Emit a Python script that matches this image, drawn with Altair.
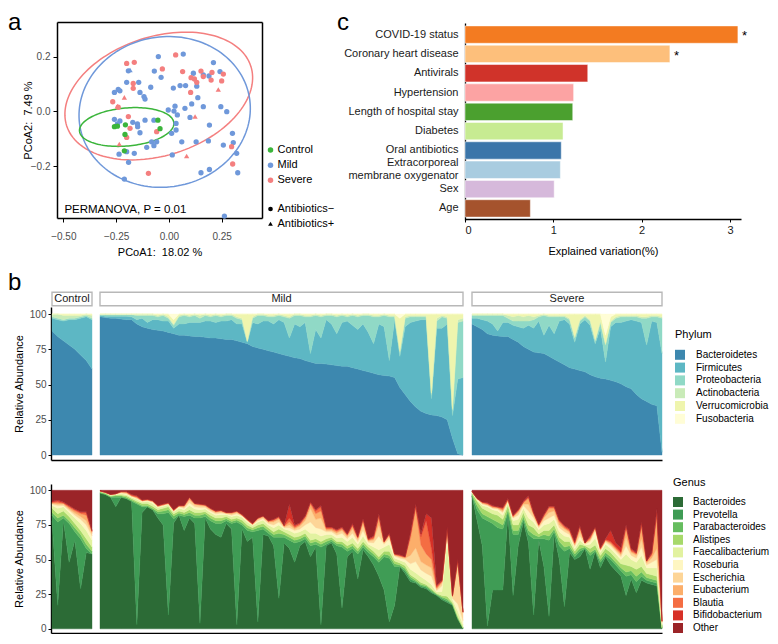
import numpy as np
import pandas as pd
import altair as alt

W, H = 762, 626
FONT = "Liberation Sans"
TICK_GRAY = "#4D4D4D"

# ======================= panel a : PCoA =======================
GROUPS = ["Control", "Mild", "Severe"]
GROUP_COLORS = ["#3BB53B", "#6F98DA", "#F47F7F"]
ABX = ["Antibiotics\u2212", "Antibiotics+"]

ctrl_x = [-0.258, -0.244, -0.206, -0.208, -0.211, -0.052, -0.042]
ctrl_y = [-0.056, -0.054, -0.049, -0.084, -0.144, -0.032, -0.063]

mild_x = [-0.050, 0.068, 0.211, -0.069, -0.037, -0.192, -0.143, -0.240, -0.258, -0.232,
          -0.200, -0.137, -0.118, -0.113, -0.086, 0.021, 0.053, 0.079, 0.132, 0.163,
          0.190, 0.242, 0.116, 0.108, 0.137, 0.163, 0.076, 0.029, -0.003, 0.024,
          0.040, 0.100, 0.246, 0.274, -0.258, -0.232, -0.149, -0.148, -0.113, -0.071,
          0.034, 0.034, 0.013, 0.061, 0.129, 0.192, 0.187, 0.258, 0.301, 0.305,
          0.321, -0.082, -0.071, -0.105, -0.200, -0.236, -0.164, -0.191, 0.016, 0.326,
          0.192, 0.152, -0.211, 0.263, -0.137, -0.244, -0.058, -0.171]
mild_y = [0.200, 0.209, 0.178, 0.147, 0.124, 0.148, 0.106, 0.080, 0.069, 0.075,
          0.106, 0.069, 0.054, 0.045, 0.088, 0.085, 0.094, 0.094, 0.092, 0.133,
          0.129, 0.145, 0.139, 0.027, 0.050, 0.017, 0.011, 0.019, 0.005, 0.001,
          -0.013, -0.022, 0.017, -0.001, -0.029, -0.035, -0.046, -0.056, -0.032, -0.032,
          -0.044, -0.068, -0.080, -0.111, -0.111, -0.050, -0.108, -0.123, -0.080, -0.114,
          -0.153, -0.111, -0.125, -0.131, -0.147, -0.156, -0.153, -0.186, -0.159, -0.224,
          -0.212, -0.224, -0.247, -0.382, -0.078, -0.046, -0.111, -0.040]
mild_tri_x = [-0.184]
mild_tri_y = [0.151]

sev_x = [-0.200, -0.164, -0.031, 0.032, 0.065, 0.152, 0.105, 0.121, 0.132, 0.103,
         0.200, 0.250, 0.258, 0.204, -0.169, -0.169, -0.266, -0.240, -0.192, -0.184,
         -0.200, -0.058, -0.097, 0.297, 0.302, 0.163]
sev_y = [0.175, 0.179, 0.155, 0.206, 0.145, 0.147, 0.123, 0.118, 0.106, 0.069,
         0.114, 0.111, 0.136, 0.142, 0.102, 0.084, 0.035, 0.015, -0.019, -0.062,
         -0.095, -0.074, -0.226, -0.129, -0.192, 0.127]
sev_tri_x = [-0.211, -0.244, 0.124, 0.234, 0.084, -0.235]
sev_tri_y = [0.051, 0.019, -0.019, 0.080, -0.163, -0.119]

# 95% ellipses: centre and the two semi-axis vectors (data units)
ell_group = ["Severe", "Mild", "Control"]
ell_cx = [-0.048, -0.020, -0.200]
ell_cy = [0.056, -0.002, -0.057]
ell_ux = [0.436, 0.401, 0.2234]
ell_uy = [0.109, 0.0545, 0.0151]
ell_vx = [0.0869, 0.0618, 0.0078]
ell_vy = [-0.206, -0.2696, -0.0691]

PERM_TEXT = ["PERMANOVA, P = 0.01"]
PERM_X = [-0.495]
PERM_Y = [-0.358]

# ======================= panel c : explained variation =======================
FACTORS = ["COVID-19 status", "Coronary heart disease", "Antivirals", "Hypertension",
           "Length of hospital stay", "Diabetes", "Oral antibiotics",
           "Extracorporeal membrane oxygenator", "Sex", "Age"]
EXPLAINED = [3.09, 2.32, 1.39, 1.23, 1.22, 1.11, 1.09, 1.08, 1.01, 0.74]
SIGNIF = ["*", "*", "", "", "", "", "", "", "", ""]
BAR_COLORS = ["#F37B21", "#FDBF7B", "#D0332A", "#FCA3A3", "#4BA02F",
              "#C7EB92", "#3B75A9", "#A9CCE0", "#D6B9DB", "#A5532D"]

# ======================= panel b : phylum composition =======================
PHYLA = ["Bacteroidetes", "Firmicutes", "Proteobacteria", "Actinobacteria",
         "Verrucomicrobia", "Fusobacteria"]
PHYLA_COLORS = ["#3D88AF", "#5DB7C4", "#90D9C6", "#C9EBB8", "#EFF5AE", "#FFFDD6"]

c_bact = [88, 84, 81, 78, 75, 71, 67, 61]
c_firm = [9, 12, 14, 18, 21, 26, 31, 35]
c_prot = [1, 1, 1, 1, 1, 1, 1, 1]
c_acti = [2, 3, 3, 2, 2, 1, 1, 2]
c_verr = [0, 0, 1, 1, 1, 1, 0, 1]
c_fuso = [0, 0, 0, 0, 0, 0, 0, 0]

m_bact = [98, 97.5, 97, 97, 96.5, 96, 96, 93, 91, 90,
          89, 88.5, 88, 87, 86, 85, 85, 84.5, 84, 84,
          83.5, 83, 83, 82.5, 82, 82, 81, 80, 79, 77,
          76, 75, 74, 73, 72, 71, 70, 69, 68.5, 67,
          66, 65, 65, 64.5, 64, 63.5, 63, 63, 62, 61,
          60, 59, 58, 57, 56.5, 56, 55, 48, 43, 38,
          34, 31, 29.5, 28.5, 28, 27, 25, 12, 1, 0]
m_firm = [1, 1, 1.5, 1.5, 2, 2.5, 2, 3, 6, 4,
          7, 7.5, 7, 8, 4, 8, 8, 9.5, 10, 10,
          11.5, 12, 11, 12.5, 13, 14, 12, 13, 1, 17,
          17, 20, 21, 20, 24, 23, 13, 24, 22.5, 27,
          6, 24, 18, 31.5, 29, 22.5, 31, 32, 30, 28,
          33, 28, 21, 36, 34.5, 11, 41, 22, 48, 56,
          61, 65, 66.5, 11.5, 62, 63, 68, 16, 53, 55]
m_prot = [0.5, 1, 1, 1, 1, 1, 1.5, 3, 2, 5,
          3, 2, 4, 2, 2, 5, 6, 4, 5, 3,
          4, 3, 5, 3, 4, 3, 4, 3, 0.5, 3,
          6, 4, 3, 5, 3, 4, 14, 6, 8, 4,
          26, 10, 15, 3, 6, 12, 5, 3, 7, 9,
          6, 12, 19, 5, 8, 31, 2, 3, 6, 4,
          3, 2, 2, 3, 5, 8, 4, 4, 40, 40]
m_acti = [0.5, 0.5, 0.5, 0.5, 0.5, 0.5, 0.5, 1, 1, 1,
          1, 1, 1, 1, 1, 1, 1, 1, 1, 2,
          1, 1, 1, 1, 1, 1, 1, 1, 0.5, 1,
          1, 1, 1, 1, 1, 1, 1, 1, 1, 1,
          1, 1, 1, 1, 1, 1, 1, 1, 1, 1,
          1, 1, 1, 1, 1, 1, 1, 1, 1, 1,
          1, 1, 1, 1, 2, 1, 1, 1, 2, 2]
m_verr = [0, 0, 0, 0, 0, 0, 0, 0, 0, 0,
          0, 1, 0, 2, 3, 1, 0, 1, 0, 1,
          0, 1, 0, 1, 0, 0, 2, 3, 19, 2,
          0, 0, 1, 1, 0, 1, 2, 0, 0, 1,
          1, 0, 1, 0, 0, 1, 0, 1, 0, 1,
          0, 0, 1, 1, 0, 1, 1, 23, 2, 1,
          1, 1, 1, 56, 3, 1, 2, 67, 4, 3]
m_fuso = [0, 0, 0, 0, 0, 0, 0, 0, 0, 0,
          0, 0, 0, 0, 4, 0, 0, 0, 0, 0,
          0, 0, 0, 0, 0, 0, 0, 0, 0, 0,
          0, 0, 0, 0, 0, 0, 0, 0, 0, 0,
          0, 0, 0, 0, 0, 0, 0, 0, 0, 0,
          0, 0, 0, 0, 0, 0, 0, 3, 0, 0,
          0, 0, 0, 0, 0, 0, 0, 0, 0, 0]

s_bact = [93, 91, 89, 86, 85, 84.5, 84, 84, 82, 80,
          77, 75, 73, 72.5, 72, 70, 68, 66, 64, 62,
          61, 60, 59, 57, 55.5, 54.5, 54, 53, 52, 50.5,
          48.5, 47, 43, 40, 38, 36, 35, 2]
s_firm = [4, 6, 7, 9, 8, 3.5, 10, 10, 10, 11,
          13, 17, 17, 22.5, 13, 22, 18, 29, 32, 31,
          19, 33, 37, 35, 23.5, 35.5, 12, 38, 42, 43.5,
          46.5, 49, 52, 54, 40, 59, 59, 70]
s_prot = [2, 2, 3, 4, 6, 11, 5, 3, 3, 4,
          5, 3, 6, 3, 14, 6, 12, 3, 2, 3,
          3, 2, 2, 3, 2, 4, 12, 3, 3, 4,
          3, 2, 3, 3, 19, 3, 4, 25]
s_acti = [1, 1, 1, 1, 1, 1, 1, 2, 3, 4,
          3, 4, 2, 1, 1, 1, 1, 1, 1, 1,
          1, 1, 1, 1, 1, 1, 1, 1, 1, 1,
          1, 1, 1, 1, 1, 1, 1, 1]
s_verr = [0, 0, 0, 0, 0, 0, 0, 1, 2, 1,
          2, 1, 2, 1, 0, 1, 1, 1, 1, 3,
          16, 4, 1, 4, 18, 5, 6, 3, 2, 1,
          1, 1, 1, 2, 2, 1, 1, 2]
s_fuso = [0, 0, 0, 0, 0, 0, 0, 0, 0, 0,
          0, 0, 0, 0, 0, 0, 0, 0, 0, 0,
          0, 0, 0, 0, 0, 0, 15, 2, 0, 0,
          0, 0, 0, 0, 0, 0, 0, 0]

# ======================= panel b : genus composition =======================
GENERA = ["Bacteroides", "Prevotella", "Parabacteroides", "Alistipes", "Faecalibacterium",
          "Roseburia", "Escherichia", "Eubacterium", "Blautia", "Bifidobacterium", "Other"]
GENERA_COLORS = ["#2C6B36", "#3F9C55", "#66BD5F", "#A7D96A", "#E2F2A0", "#FEF6C2",
                 "#FDD597", "#FCAE6A", "#F46D43", "#D73027", "#9B2428"]

cg_bact = [78, 17, 78, 48, 64, 29, 55, 54]
cg_prev = [4, 60, 2, 28, 6, 36, 3, 0]
cg_para = [2, 3, 2, 2, 3, 3, 3, 2]
cg_alis = [3, 3, 3, 3, 3, 3, 4, 3]
cg_faec = [2, 4, 3, 3, 4, 5, 6, 5]
cg_rose = [1, 2, 1, 1.5, 2, 3, 4, 3]
cg_esch = [0.5, 1, 1, 1, 1.5, 2, 3, 2]
cg_euba = [0.5, 1, 0.5, 1, 1.5, 2, 4, 1]
cg_blau = [0.5, 1, 0.5, 1, 1, 1, 2, 0.5]
cg_bifi = [0.5, 1, 0.5, 0.5, 0.5, 0.5, 0.5, 0.5]
cg_othr = [8, 7, 8.5, 11, 13.5, 15.5, 15.5, 29]

mg_bact = [98, 97, 95, 88, 95, 94, 92, 3, 84, 88,
           86, 80, 75, 10, 76, 82, 71, 80, 76, 4,
           80, 72, 68, 66, 76, 72, 3, 72, 63, 66,
           5, 68, 67, 60, 22, 62, 58, 48, 60, 63,
           52, 59, 3, 60, 62, 54, 15, 52, 56, 36,
           57, 52, 46, 38, 28, 5, 17, 45, 40, 34,
           33, 30, 29, 26, 24, 21, 19, 17, 7, 0.5]
mg_prev = [0, 0, 0, 7, 0, 0, 0, 87, 4, 0,
           0, 3, 8, 74, 3, 0, 10, 2, 4, 76,
           1, 6, 8, 10, 2, 4, 74, 3, 8, 4,
           66, 4, 2, 6, 44, 4, 6, 14, 3, 2,
           8, 2, 56, 1, 1, 6, 44, 4, 2, 18,
           2, 3, 6, 10, 24, 46, 28, 0, 2, 2,
           1, 1, 1, 1, 0.5, 1, 1, 0.5, 0.5, 0]
mg_para = [0.5, 0.5, 0.5, 1, 1, 1, 1, 1, 1, 1,
           1, 1.5, 2, 2, 2, 1.5, 1.5, 2, 2, 2,
           2, 2, 2, 2, 1.5, 1.5, 1.5, 1.5, 2, 1.5,
           2, 2, 2, 2, 3, 2, 2, 2, 2, 2,
           2, 2, 2, 2, 1.5, 1.5, 2, 2, 2, 2,
           2, 2, 2, 2, 2, 2, 2, 1, 1.5, 1.5,
           1, 1, 1, 1, 0.5, 1, 1.5, 0.5, 0.5, 0]
mg_alis = [0.5, 0.5, 0.5, 0.5, 0.5, 1, 1, 1, 1.5, 1.5,
           1.5, 1.5, 2, 2, 1.5, 1.5, 1.5, 2, 2, 2,
           1.5, 2, 2, 2, 1.5, 1.5, 1.5, 2, 2, 1.5,
           2, 2, 2, 2, 3, 2, 2, 2, 2, 2,
           2, 2, 2, 2, 1.5, 1.5, 2, 2, 2, 2,
           2, 2, 2, 2, 2, 3, 2, 1.5, 2, 1.5,
           1.5, 1.5, 1, 1, 0.5, 1, 2, 1, 1, 0.5]
mg_faec = [0.5, 0.5, 0.5, 0.5, 1, 1, 1, 1.5, 1, 1.5,
           2, 1.5, 1.5, 1.5, 1.5, 2, 2, 3, 2.5, 2,
           2, 2, 2, 2.5, 1.5, 2, 2, 2, 2, 1.5,
           2, 2.5, 2, 3, 3, 2, 3, 3, 3, 3,
           5, 4, 4, 3, 2, 2.5, 3, 3, 4, 3,
           4, 2, 3, 5, 3, 5, 2, 2, 2.5, 4,
           4, 4, 3, 3, 1, 3, 40, 2, 4, 2]
mg_rose = [0, 0, 0.5, 0.5, 0.5, 0.5, 0.5, 0.5, 0.5, 0.5,
           1, 0.5, 0.5, 0.5, 0.5, 1, 1, 2, 1.5, 1.5,
           1, 1, 1, 1, 0.5, 1, 1, 1, 1, 0.5,
           1, 1, 1, 2, 2, 1, 2, 2, 2, 3,
           8, 4, 5, 2, 2, 2, 3, 2, 3, 2,
           4, 1.5, 3, 10, 2, 4, 1.5, 1.5, 2, 4,
           8, 5, 5, 6, 1, 4, 6, 1, 5, 3]
mg_esch = [0, 0, 0, 0, 0.5, 0.5, 0.5, 0.5, 0.5, 0.5,
           0.5, 0.5, 0.5, 0.5, 0.5, 0.5, 1, 2, 1.5, 1.5,
           1, 1, 1, 1, 0.5, 1, 1, 0.5, 0.5, 0.5,
           1, 1, 1, 2, 2, 0.5, 2, 1, 2, 3,
           10, 6, 8, 1, 1, 1.5, 2, 1.5, 3, 1.5,
           4, 1, 2, 8, 1, 2, 0.5, 1, 1, 6,
           10, 6, 6, 6, 1, 2, 2, 1, 28, 6]
mg_euba = [0, 0, 0, 0, 0.5, 0.5, 0, 0.5, 0, 0,
           0, 0, 0, 0, 0, 0, 0.5, 1, 0.5, 0.5,
           0.5, 0.5, 0.5, 0.5, 0, 0.5, 0.5, 0, 0, 0,
           0.5, 0.5, 0.5, 1, 1, 0.5, 2, 1, 1, 2,
           3, 4, 5, 1, 1, 1, 1, 1, 2, 1,
           3, 0.5, 1, 5, 0.5, 1, 0.5, 0.5, 0.5, 12,
           28, 12, 8, 6, 1, 1, 1, 0.5, 3, 0]
mg_blau = [0, 0, 0, 0, 0, 0.5, 0.5, 0.5, 0.5, 0.5,
           0.5, 0.5, 0.5, 0.5, 0.5, 0.5, 0.5, 1, 0.5, 0.5,
           0.5, 0.5, 0.5, 0.5, 0.5, 0.5, 0.5, 0.5, 0.5, 0.5,
           0.5, 0.5, 0.5, 1, 1, 0.5, 3, 1, 1, 1,
           1, 2, 3, 1, 1, 1, 1, 0.5, 1, 0.5,
           1, 0.5, 1, 2, 0.5, 0.5, 0.5, 0.5, 0.5, 3,
           2, 6, 24, 8, 1, 0.5, 0.5, 0.5, 0.5, 0]
mg_bifi = [0, 0, 0, 0, 0, 0, 0.5, 0.5, 0, 0,
           0, 0, 0, 0, 0, 0, 0, 0, 0, 0,
           0, 0, 0, 0, 0, 0, 0, 0, 0, 0,
           0, 0, 0, 0, 0, 0, 10, 1, 0.5, 0.5,
           0.5, 1, 1, 0.5, 0.5, 0.5, 0.5, 0.5, 1, 0.5,
           0.5, 0.5, 1, 1, 0, 0.5, 0, 0.5, 0, 1,
           1.5, 2, 5, 22, 1, 0.5, 0.5, 0, 0.5, 0]
mg_othr = [0.5, 1.5, 3, 2.5, 1, 1, 3, 4, 7, 6.5,
           7.5, 11, 10, 9, 14, 11, 11, 5, 9.5, 10,
           10.5, 13, 15, 14.5, 16, 16, 15, 17.5, 21, 24,
           20, 18.5, 22, 21, 19, 25.5, 10, 25, 23.5, 18.5,
           8.5, 14, 11, 26.5, 26.5, 28.5, 26.5, 31.5, 24, 33.5,
           20.5, 35, 33, 17, 37, 31, 46, 46.5, 48, 31,
           10, 31.5, 17, 20, 68.5, 65, 26.5, 76, 50, 88]

sg_bact = [96, 78, 60, 2, 28, 28, 28, 83, 24, 60,
           77, 62, 10, 64, 45, 9, 68, 50, 16, 55,
           50, 52, 58, 43, 56, 44, 52, 46, 42, 38,
           24, 36, 26, 35, 33, 32, 31, 0.5]
sg_prev = [0, 8, 20, 76, 48, 45, 44, 1, 44, 8,
           2, 6, 55, 1, 20, 55, 2, 10, 40, 3,
           2, 4, 0, 10, 0, 4, 1, 4, 4, 4,
           14, 3, 8, 3, 2, 2, 2, 0]
sg_para = [1, 3, 3, 3, 3, 4, 3, 2, 3, 3,
           2, 3, 3, 1.5, 3, 3, 2, 3, 3, 2,
           2, 2, 1, 2, 1.5, 2, 2, 2, 2, 2,
           3, 3, 4, 3, 2, 2, 2, 0]
sg_alis = [1, 3, 4, 4, 4, 5, 4, 3, 4, 4,
           3, 4, 5, 2, 3, 4, 3, 3, 4, 3,
           2, 3, 1, 3, 3, 3, 3, 3, 3, 3,
           5, 3, 5, 4, 3, 3, 3, 0.5]
sg_faec = [0.5, 1, 2, 3, 3, 3, 3, 2, 3, 4,
           3, 5, 4, 3, 4, 5, 4, 4, 4, 3,
           2, 3, 0.5, 3, 5, 2, 3, 3, 3, 3,
           8, 5, 5, 8, 4, 5, 6, 2]
sg_rose = [0.5, 0.5, 1, 1, 1, 1.5, 2, 1, 2, 3,
           2, 5, 3, 1.5, 3, 4, 3, 3, 3, 2,
           1.5, 3, 0.5, 2, 5, 1.5, 1.5, 2, 2, 2,
           6, 3, 3, 6, 2, 4, 6, 1]
sg_esch = [0, 0.5, 0.5, 0.5, 0.5, 0.5, 1, 0.5, 0.5, 2,
           1, 5, 2, 1, 2, 4, 3, 2, 2, 1.5,
           1, 3, 0.5, 1, 2, 0.5, 1, 1, 1, 1.5,
           6, 2, 2, 6, 1.5, 3, 8, 1]
sg_euba = [0, 0, 0.5, 0.5, 0.5, 0.5, 1, 0.5, 0.5, 1,
           1, 4, 1, 0.5, 1, 3, 2, 2, 1, 1,
           1, 3, 0.5, 1, 0.5, 0.5, 0.5, 1, 1, 1,
           6, 1, 1, 8, 1, 2, 22, 0.5]
sg_blau = [0, 0, 0.5, 0.5, 0.5, 0.5, 1, 0.5, 0.5, 0.5,
           0.5, 1, 0.5, 0.5, 1, 1, 1, 1, 1, 1,
           0.5, 1, 0, 1, 0.5, 0.5, 0.5, 1, 1, 1,
           2, 1, 0.5, 3, 0.5, 1, 4, 0]
sg_bifi = [0, 0, 0, 0.5, 0.5, 0, 0.5, 0.5, 0.5, 0.5,
           0.5, 1, 0.5, 0.5, 0.5, 0.5, 0.5, 0.5, 0.5, 0.5,
           1, 0.5, 0, 1, 0, 0.5, 0.5, 8, 3, 3,
           1, 1, 0.5, 1, 0, 1, 2.5, 0]
sg_othr = [1, 6, 8.5, 9, 11, 12, 12.5, 6, 18, 14,
           8, 4, 16, 24.5, 17.5, 11.5, 11.5, 21.5, 25.5, 28,
           37, 25.5, 38, 33, 26.5, 41.5, 35, 29, 38, 41.5,
           25, 42, 45, 23, 51, 45, 13.5, 94.5]

# ======================= helpers =======================
def ax(**kw):
    base = dict(grid=False, domainColor="black", tickColor="black", labelColor=TICK_GRAY,
                labelFont=FONT, labelFontSize=10, titleFont=FONT, titleFontSize=11,
                titleFontWeight="normal", titleColor="black", tickSize=3, tickWidth=1,
                domainWidth=1.3)
    base.update(kw)
    return alt.Axis(**base)


def long_df(cols, names):
    recs = []
    for k, (nm, arr) in enumerate(zip(names, cols)):
        for i, v in enumerate(arr):
            recs.append((i, nm, v, k))
    return pd.DataFrame(recs, columns=["i", "taxon", "value", "ord"])


# ======================= panel a layers =======================
def pts(xs, ys, g, a):
    return pd.DataFrame({"x": xs, "y": ys, "group": g, "abx": a})


pts_df = pd.concat([
    pts(mild_x, mild_y, "Mild", ABX[0]),
    pts(mild_tri_x, mild_tri_y, "Mild", ABX[1]),
    pts(sev_x, sev_y, "Severe", ABX[0]),
    pts(sev_tri_x, sev_tri_y, "Severe", ABX[1]),
    pts(ctrl_x, ctrl_y, "Control", ABX[0]),
], ignore_index=True)

tt = np.linspace(0, 2 * np.pi, 145)
ell_rows = []
for g, cx, cy, ux, uy, vx, vy in zip(ell_group, ell_cx, ell_cy, ell_ux, ell_uy, ell_vx, ell_vy):
    for k, t in enumerate(tt):
        ell_rows.append((g, k, cx + ux * np.cos(t) + vx * np.sin(t), cy + uy * np.cos(t) + vy * np.sin(t)))
ell_df = pd.DataFrame(ell_rows, columns=["group", "k", "x", "y"])

sxA = alt.Scale(domain=[-0.530, 0.441], range=[49, 254], nice=False, zero=False)
syA = alt.Scale(domain=[-0.389, 0.326], range=[210, 14], nice=False, zero=False)
colA = alt.Scale(domain=GROUPS, range=GROUP_COLORS)

ellipses = alt.Chart(ell_df).mark_line(strokeWidth=1.5).encode(
    x=alt.X("x:Q", scale=sxA, axis=ax(orient="top", offset=-14, labels=False, ticks=False,
                                      title=None, domainWidth=1.5)),
    y=alt.Y("y:Q", scale=syA, axis=ax(orient="right", offset=254 - W, labels=False, ticks=False,
                                      title=None, domainWidth=1.5)),
    color=alt.Color("group:N", scale=colA, legend=None),
    detail="group:N",
    order="k:Q",
)

points = alt.Chart(pts_df).mark_point(filled=True, opacity=1, size=28).encode(
    x=alt.X("x:Q", scale=sxA,
            axis=ax(orient="bottom", offset=210 - H, values=[-0.5, -0.25, 0, 0.25], format=".2f",
                    title="PCoA1:\u00a0 18.02 %", tickSize=4, labelPadding=9, titlePadding=5,
                    domainWidth=1.5)),
    y=alt.Y("y:Q", scale=syA,
            axis=ax(orient="left", offset=-49, values=[-0.4, -0.2, 0, 0.2], format=".1f",
                    title="PCoA2:\u00a0 7.49 %", tickSize=4, labelPadding=3, titlePadding=-3,
                    domainWidth=1.5)),
    color=alt.Color("group:N", scale=colA,
                    legend=alt.Legend(orient="none", legendX=257, legendY=136.5, title=None,
                                      symbolType="circle", symbolSize=30, symbolStrokeWidth=0,
                                      labelOffset=1.5, rowPadding=3.15, padding=0,
                                      labelFontSize=11, labelFont=FONT, labelColor="black")),
    shape=alt.Shape("abx:N", scale=alt.Scale(domain=ABX, range=["circle", "triangle-up"]),
                    legend=alt.Legend(orient="none", legendX=257, legendY=195.5, title=None,
                                      symbolSize=22, symbolFillColor="black",
                                      symbolStrokeColor="black", symbolStrokeWidth=0,
                                      labelOffset=1.5, rowPadding=2.8, padding=0,
                                      labelFontSize=11, labelFont=FONT, labelColor="black")),
)

perm = alt.Chart(pd.DataFrame({"x": PERM_X, "y": PERM_Y, "t": PERM_TEXT})).mark_text(
    align="left", baseline="middle", fontSize=11.5, font=FONT, color="black"
).encode(
    x=alt.X("x:Q", scale=sxA, axis=None),
    y=alt.Y("y:Q", scale=syA, axis=None),
    text="t:N",
)

# ======================= panel c layers =======================
bar_df = pd.DataFrame({"factor": FACTORS, "value": EXPLAINED, "sig": SIGNIF})
sxC = alt.Scale(domain=[0, 3.125], range=[457, 733], nice=False, zero=False)
syC = alt.Scale(domain=FACTORS, range=[15, 212], paddingInner=0.1, paddingOuter=0.15)

bars = alt.Chart(bar_df).mark_bar(stroke="white", strokeWidth=0.5).encode(
    y=alt.Y("factor:N", scale=syC, sort=None,
            axis=ax(orient="left", offset=-457, ticks=False, labelPadding=7, title=None,
                    labelFontSize=11, labelColor="#1A1A1A", labelLineHeight=12.4,
                    labelOffset={"condition": {"test": "datum.value == 'Extracorporeal membrane oxygenator'",
                                               "value": -6.3}, "value": 0},
                    labelExpr="datum.label == 'Extracorporeal membrane oxygenator' ? "
                              "['Extracorporeal', 'membrane oxygenator'] : datum.label")),
    x=alt.X("value:Q", scale=sxC,
            axis=ax(orient="bottom", offset=211 - H, values=[0, 1, 2, 3], format="d",
                    title="Explained variation(%)", labelPadding=2, titlePadding=10,
                    labelFontSize=11, labelColor="#1A1A1A")),
    color=alt.Color("factor:N", scale=alt.Scale(domain=FACTORS, range=BAR_COLORS), legend=None),
)

stars = alt.Chart(bar_df).transform_filter("datum.sig != ''").mark_text(
    align="left", baseline="middle", dx=4, dy=3, fontSize=13, font=FONT, color="black"
).encode(
    x=alt.X("value:Q", scale=sxC, axis=None),
    y=alt.Y("factor:N", scale=syC, sort=None, axis=None),
    text="sig:N",
)

# ======================= panel b layers =======================
PANEL_X = {"Control": [44, 84], "Mild": [92, 455], "Severe": [464, 654]}
ROW_X = [43, 654]
PHY_YDOM, PHY_YR = [-0.035, 1.05], [452, 299]
GEN_YDOM, GEN_YR = [-0.030, 1.045], [625, 476]


def area_layer(df, n, xr, ydom, yr, taxa, colors, yaxis=None, legend=None):
    sx = alt.Scale(domain=[0, n - 1], range=xr, nice=False, zero=False)
    cs = alt.Scale(domain=taxa, range=colors)
    return alt.Chart(df).mark_area(strokeWidth=0.4, interpolate="linear").encode(
        x=alt.X("i:Q", scale=sx, axis=None),
        y=alt.Y("value:Q", stack="normalize",
                scale=alt.Scale(domain=ydom, range=yr, nice=False), axis=yaxis),
        color=alt.Color("taxon:N", scale=cs, legend=legend),
        stroke=alt.Stroke("taxon:N", scale=cs, legend=None),
        order=alt.Order("ord:Q"),
    )


def row_baseline(y_bottom):
    # shared bottom axis line spanning the three facet panels of one row
    return alt.Chart(pd.DataFrame({"g": GROUPS})).mark_point(opacity=0).encode(
        x=alt.X(datum=0, type="quantitative",
                scale=alt.Scale(domain=[0, 1], range=ROW_X, nice=False, zero=False),
                axis=ax(orient="bottom", offset=y_bottom - H, labels=False, ticks=False,
                        title=None, domainWidth=1.4)),
        y=alt.value(y_bottom - 2),
    )


def y_axis_b():
    return ax(orient="left", offset=-43, values=[0, 0.25, 0.5, 0.75, 1],
              labelExpr="format(datum.value * 100, 'd')", title="Relative Abundance",
              labelPadding=2, titlePadding=5, domainWidth=1.4)


def b_legend(title, lx, ly, row_pad, title_pad, label_off):
    return alt.Legend(orient="none", legendX=lx, legendY=ly, title=title, titleFont=FONT,
                      titleFontSize=11, titleFontWeight="normal", titleColor="black",
                      titlePadding=title_pad, symbolType="square", symbolSize=100,
                      symbolStrokeWidth=0, labelOffset=label_off, rowPadding=row_pad, padding=0,
                      labelFontSize=10, labelFont=FONT, labelColor="black")


phy_groups = {
    "Control": [c_bact, c_firm, c_prot, c_acti, c_verr, c_fuso],
    "Mild": [m_bact, m_firm, m_prot, m_acti, m_verr, m_fuso],
    "Severe": [s_bact, s_firm, s_prot, s_acti, s_verr, s_fuso],
}
gen_groups = {
    "Control": [cg_bact, cg_prev, cg_para, cg_alis, cg_faec, cg_rose, cg_esch, cg_euba,
                cg_blau, cg_bifi, cg_othr],
    "Mild": [mg_bact, mg_prev, mg_para, mg_alis, mg_faec, mg_rose, mg_esch, mg_euba,
             mg_blau, mg_bifi, mg_othr],
    "Severe": [sg_bact, sg_prev, sg_para, sg_alis, sg_faec, sg_rose, sg_esch, sg_euba,
               sg_blau, sg_bifi, sg_othr],
}

b_layers = [row_baseline(PHY_YR[0]), row_baseline(GEN_YR[0])]
for gname in GROUPS:
    xr = PANEL_X[gname]
    first = gname == "Control"
    pcols = phy_groups[gname]
    gcols = gen_groups[gname]
    b_layers.append(area_layer(long_df(pcols, PHYLA), len(pcols[0]), xr, PHY_YDOM, PHY_YR,
                               PHYLA, PHYLA_COLORS,
                               yaxis=y_axis_b() if first else None,
                               legend=b_legend("Phylum", 667, 320.5, 2.8, 10.3, 11) if first else None))
    b_layers.append(area_layer(long_df(gcols, GENERA), len(gcols[0]), xr, GEN_YDOM, GEN_YR,
                               GENERA, GENERA_COLORS,
                               yaxis=y_axis_b() if first else None,
                               legend=b_legend("Genus", 665, 469, 2.6, 9, 10) if first else None))
    strip_df = pd.DataFrame({"g": [gname]})
    b_layers.append(alt.Chart(strip_df).mark_rect(fill="white", stroke="#B8B8B8",
                                                  strokeWidth=1.4).encode(
        x=alt.value(xr[0]), x2=alt.value(xr[1]), y=alt.value(284.3), y2=alt.value(297.7)))
    b_layers.append(alt.Chart(strip_df).mark_text(fontSize=11, font=FONT, color="#1A1A1A",
                                                  baseline="middle", align="center").encode(
        x=alt.value((xr[0] + xr[1]) / 2), y=alt.value(291.2), text="g:N"))

# ======================= panel letters =======================
def letter(t, x, y):
    return alt.Chart(pd.DataFrame({"t": [t]})).mark_text(
        align="left", baseline="alphabetic", fontSize=24, font=FONT, color="black"
    ).encode(text="t:N", x=alt.value(x), y=alt.value(y))


letters = [letter("a", 0, 22), letter("b", 0, 282), letter("c", 329, 22)]

chart = alt.layer(
    ellipses, points, perm, bars, stars, *b_layers, *letters
).resolve_scale(
    x="independent", y="independent", color="independent", stroke="independent",
    shape="independent"
).resolve_axis(
    x="independent", y="independent"
).resolve_legend(
    color="independent", shape="independent", stroke="independent"
).properties(
    width=W, height=H, padding=0, autosize=alt.AutoSizeParams(type="none")
).configure(
    font=FONT
).configure_view(
    stroke=None
).configure_axis(
    grid=False
).configure_legend(
    symbolBaseFillColor="black", symbolBaseStrokeColor="black"
)

chart.save("out.html", embed_options={"renderer": "svg", "actions": False})
